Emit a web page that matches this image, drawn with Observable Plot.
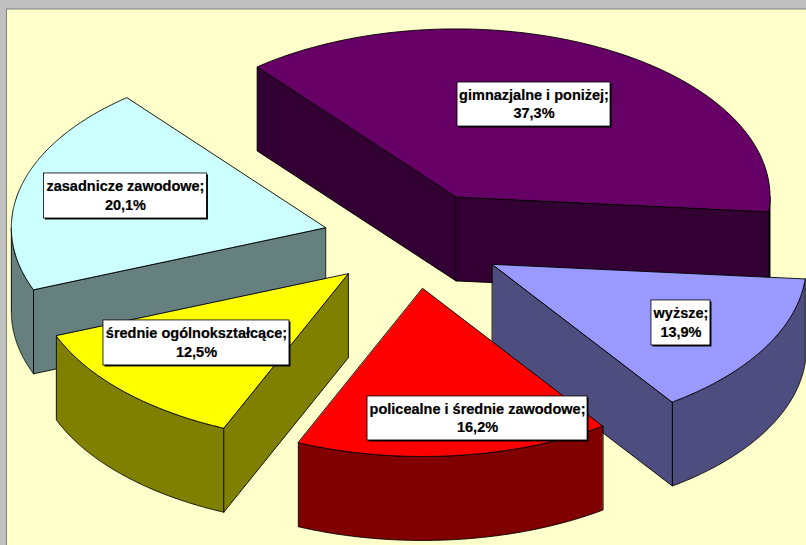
<!DOCTYPE html>
<html>
<head>
<meta charset="utf-8">
<style>
html,body{margin:0;padding:0;background:#C0C0C0;}
svg{display:block;}
</style>
<script src="https://cdn.jsdelivr.net/npm/d3@7"></script>
<script src="https://cdn.jsdelivr.net/npm/@observablehq/plot@0.6"></script>
</head>
<body>
<div id="chart"></div>
<script>
// Data
const categories = ["gimnazjalne i poniżej", "wyższe", "policealne i średnie zawodowe", "średnie ogólnokształcące", "zasadnicze zawodowe"];
const shares = [37.3, 13.9, 16.2, 12.5, 20.1];

// Style
const topColors = ["#660066", "#9999FF", "#FF0000", "#FFFF00", "#CCFFFF"];
const sideColors = ["#330033", "#4D4D80", "#800000", "#808000", "#668080"];

// Layout of the tilted, exploded pie (in scale units)
const W = 806, H = 545;
const pie = {cx: 413, cy: 239.5, rx: 314, ry: 168, depth: 84, explode: 0.29, startDeg: 129.3};
const paintOrder = [0, 4, 3, 1, 2];
const labelOffsets = [[78, -92.4], [188.6, 58.6], [54.8, 130], [-151.7, 69], [-199.9, -31.8]];
const labelBoxes = [[153, 44], [59, 45], [220, 44], [186, 45], [163, 45]];

const total = d3.sum(shares);
const rad = d => d * Math.PI / 180;
let running = pie.startDeg;
const slices = shares.map((v, i) => {
  const a0 = running, a1 = running - v / total * 360;
  running = a1;
  const mid = rad((a0 + a1) / 2);
  const ax = pie.cx + pie.explode * pie.rx * Math.cos(mid);
  const ay = pie.cy - pie.explode * pie.ry * Math.sin(mid);
  const at = deg => ({x: ax + pie.rx * Math.cos(rad(deg)), y: ay - pie.ry * Math.sin(rad(deg))});
  const sample = (from, to) => d3.range(0, 201).map(k => at(from + (to - from) * k / 200));
  // the part of the rim that faces the viewer: angles between -180 and 0
  const visFrom = Math.min(a0, 0), visTo = Math.max(a1, -180);
  return {
    i, a0, a1,
    apex: {x: ax, y: ay},
    arc: sample(a0, a1),
    rim: visFrom > visTo ? sample(visFrom, visTo) : []
  };
});

const down = p => ({x: p.x, y: p.y + pie.depth});
const wallFrom = (a, b) => [a, b, down(b), down(a)];
const polygon = (pts, fill) => Plot.line(pts, {x: "x", y: "y", fill, stroke: "#000", strokeWidth: 0.9, curve: "linear-closed"});

const sliceMarks = paintOrder.flatMap(i => {
  const s = slices[i];
  const first = s.arc[0], last = s.arc[s.arc.length - 1];
  const marks = [];
  if (s.rim.length) marks.push(polygon([...s.rim, ...s.rim.slice().reverse().map(down)], sideColors[i]));
  if (Math.cos(rad(s.a0)) < 0) marks.push(polygon(wallFrom(s.apex, first), sideColors[i]));
  if (Math.cos(rad(s.a1)) > 0) marks.push(polygon(wallFrom(s.apex, last), sideColors[i]));
  marks.push(polygon([s.apex, ...s.arc], topColors[i]));
  return marks;
});

const labels = slices.map(s => {
  const [dx, dy] = labelOffsets[s.i], [w, h] = labelBoxes[s.i];
  const x = s.apex.x + dx, y = s.apex.y + dy;
  return {
    x, y, x1: x - w / 2, x2: x + w / 2, y1: y - h / 2, y2: y + h / 2,
    text: `${categories[s.i]};\n${shares[s.i].toFixed(1).replace(".", ",")}%`
  };
});

const plot = Plot.plot({
  width: W, height: H,
  margin: 0,
  x: {domain: [0, W], range: [0, W], axis: null},
  y: {domain: [0, H], range: [0, H], axis: null},
  style: {background: "#C0C0C0"},
  marks: [
    Plot.rect([{}], {x1: 6.5, x2: W + 5, y1: 9, y2: H + 5, fill: "#FFFFCC", stroke: "#808080", strokeWidth: 1}),
    ...sliceMarks,
    Plot.rect(labels, {x1: d => d.x1 + 1.5, x2: d => d.x2 + 1.5, y1: d => d.y1 + 1.5, y2: d => d.y2 + 1.5, fill: "#000"}),
    Plot.rect(labels, {x1: "x1", x2: "x2", y1: "y1", y2: "y2", fill: "#fff", stroke: "#000", strokeWidth: 0.8}),
    Plot.text(labels, {x: "x", y: "y", dy: -1.5, text: "text", fill: "#000", stroke: "#000", strokeWidth: 0.2, fontFamily: "'Liberation Sans', Arial, sans-serif", fontWeight: "bold", fontSize: 14.5, lineHeight: 1.3})
  ]
});
document.getElementById("chart").append(plot);
</script>
</body>
</html>
